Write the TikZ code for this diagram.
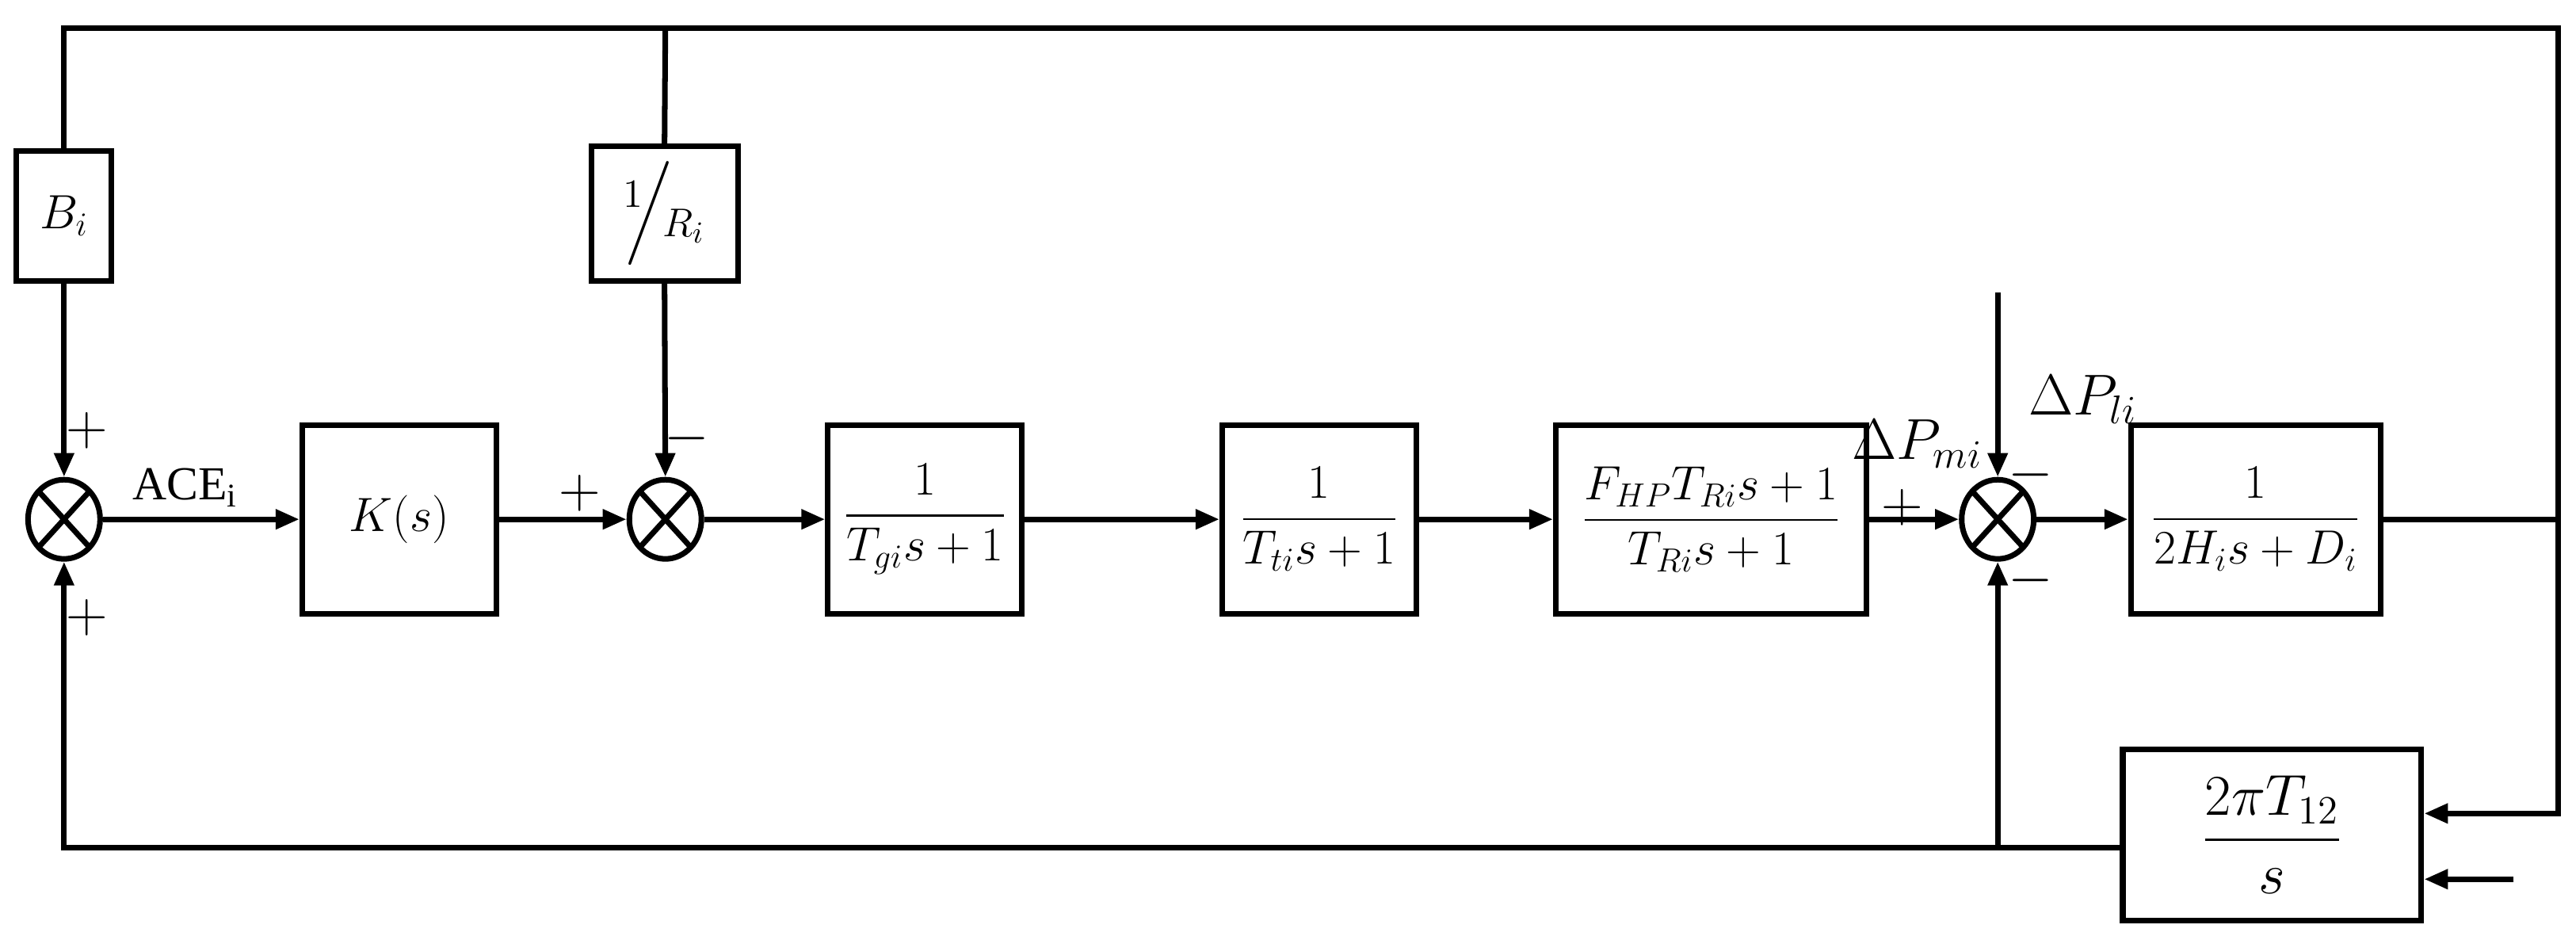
\documentclass[tikz,border=0pt]{standalone}
\usepackage{amsmath}
\usepackage{fontspec}
\setmainfont{Liberation Serif}
\usetikzlibrary{arrows.meta,shapes.geometric}
\begin{document}
\begin{tikzpicture}[x=0.020733cm,y=-0.020733cm,line width=2pt,
  blk/.style={draw,rectangle,inner sep=0pt,font=\fontsize{17}{21}\selectfont},
  sum/.style={draw,ellipse,minimum width=0.91cm,minimum height=1.0cm,inner sep=0pt,
    path picture={\draw[line width=2pt] (path picture bounding box.north east)--(path picture bounding box.south west)
      (path picture bounding box.north west)--(path picture bounding box.south east);}},
  arr/.style={-{Triangle[length=0.3cm,width=0.24cm]}},
  sg/.style={font=\fontsize{20}{24}\selectfont},
  lbl/.style={font=\fontsize{20}{24}\selectfont}]
\useasboundingbox (0,0) rectangle (1568,572);
\node[blk,minimum width=1.2cm,minimum height=1.64cm] (B) at (39,131.5) {$B_i$};
\node[blk,minimum width=1.85cm,minimum height=1.70cm,font=\fontsize{22}{26}\selectfont] (R) at (404.5,130) {$^1\!\!\Big/\!_{R_i}$};
\node[sum] (s1) at (39,316) {};
\node[sum] (s2) at (405,316) {};
\node[sum] (s3) at (1216,316) {};
\node[blk,minimum width=2.45cm,minimum height=2.38cm] (K) at (243,316) {$K(s)$};
\node[blk,minimum width=2.45cm,minimum height=2.38cm] (G) at (563,316) {$\dfrac{1}{T_{gi}s+1}$};
\node[blk,minimum width=2.45cm,minimum height=2.38cm] (T) at (803,316) {$\dfrac{1}{T_{ti}s+1}$};
\node[blk,minimum width=3.92cm,minimum height=2.38cm] (F) at (1041.5,316) {$\dfrac{F_{HP}T_{Ri}s+1}{T_{Ri}s+1}$};
\node[blk,minimum width=3.15cm,minimum height=2.38cm] (H) at (1373,316) {$\dfrac{1}{2H_is+D_i}$};
\node[blk,minimum width=3.77cm,minimum height=2.16cm,font=\fontsize{20}{24}\selectfont] (P) at (1383,508) {$\dfrac{2\pi T_{12}}{s}$};
\coordinate (tl) at (39,17); \coordinate (tr) at (1557,17); \coordinate (tm) at (405,17);
\coordinate (or) at (1557,316); \coordinate (pr) at (1557,495);
\coordinate (in2) at (1530,535); \coordinate (pl) at (1216,178);
\coordinate (bl) at (39,516); \coordinate (bj) at (1216,516);
% forward path
\draw[arr] (s1) -- node[above,font=\fontsize{17}{20}\selectfont,xshift=-0.2cm]{ACE$_\mathrm{i}$} (K);
\draw[arr] (K) -- (s2);
\draw[arr] (s2) -- (G);
\draw[arr] (G) -- (T);
\draw[arr] (T) -- (F);
\draw[arr] (F) -- (s3);
\draw[arr] (s3) -- (H);
\draw (H) -- (or);
% top loop
\draw (or) -- (tr) -- (tl) -- (B.north);
\draw (tm) -- (R.north);
\draw[arr] (B.south) -- (s1.north);
\draw[arr] (R.south) -- (s2.north);
\draw[arr] (or) -- (pr) -- (pr-|P.east);
\draw[arr] (in2) -- (in2-|P.east);
% bottom loop
\draw[arr] (P.west|-bl) -- (bl) -- (s1.south);
\draw[arr] (bj) -- (s3.south);
\draw[arr] (pl) -- (s3.north);
% signs
\node[sg] at (53,262) {$+$};
\node[sg] at (53,376) {$+$};
\node[sg] at (353,300) {$+$};
\node[sg] at (418,267) {$-$};
\node[sg] at (1158,309) {$+$};
\node[sg] at (1236,289) {$-$};
\node[sg] at (1236,353) {$-$};
\node[lbl] at (1167,270) {$\Delta P_{mi}$};
\node[lbl] at (1268,243) {$\Delta P_{li}$};
\end{tikzpicture}
\end{document}
